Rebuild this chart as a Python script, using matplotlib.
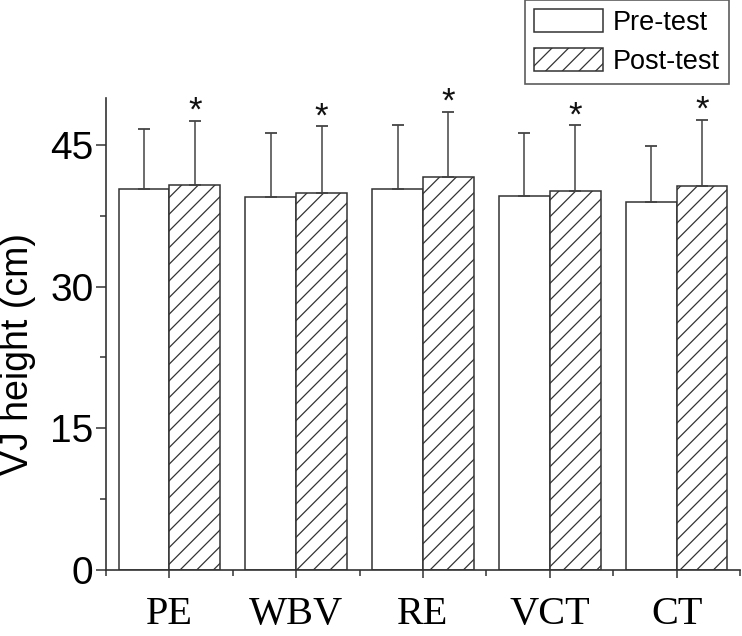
import matplotlib
matplotlib.use("Agg")
import matplotlib.pyplot as plt
import numpy as np

categories = ["PE", "WBV", "RE", "VCT", "CT"]
pre_mean = [40.3, 39.45, 40.3, 39.6, 38.95]
pre_sd = [6.4, 6.85, 6.8, 6.7, 5.95]
post_mean = [40.8, 39.95, 41.65, 40.15, 40.7]
post_sd = [6.8, 7.05, 6.85, 6.95, 7.0]
post_sig = ["*", "*", "*", "*", "*"]
yticks = [0, 15, 30, 45]

plt.rcParams['font.family'] = ['Liberation Sans', 'DejaVu Sans']
plt.rcParams['hatch.linewidth'] = 0.9
plt.rcParams['hatch.color'] = '#222222'

fig = plt.figure(figsize=(7.42, 6.36), dpi=100)
ax = fig.add_axes([106/742, 1-569.5/636, (740-106)/742, (569.5-98)/636])

x = np.arange(len(categories))
w = 0.4
edge = '#333333'
ax.bar(x - w/2, pre_mean, w, color='white', edgecolor=edge, linewidth=1.1,
       label='Pre-test', zorder=2)
ax.bar(x + w/2, post_mean, w, color='white', edgecolor=edge, linewidth=1.1,
       hatch='//', label='Post-test', zorder=2)
ax.errorbar(x - w/2, pre_mean, yerr=[np.zeros(len(pre_sd)), pre_sd], fmt='none',
            ecolor='#444444', elinewidth=1.1, capsize=4.5, capthick=1.3, zorder=3)
ax.errorbar(x + w/2, post_mean, yerr=[np.zeros(len(post_sd)), post_sd], fmt='none',
            ecolor='#444444', elinewidth=1.1, capsize=4.5, capthick=1.3, zorder=3)
for xi, m, s, sig in zip(x + w/2, post_mean, post_sd, post_sig):
    ax.annotate(sig, (xi, m + s), xytext=(0, -5), textcoords='offset points',
                ha='center', va='bottom', fontsize=25, color='#111111')

ax.set_xlim(-0.5, 4.5)
ax.set_ylim(0, 50)
ax.set_yticks(yticks)
ax.set_yticks(np.arange(7.5, 50, 15), minor=True)
ax.set_xticks(x)
ax.set_xticks(np.arange(-0.5, 4.6, 1.0), minor=True)
ax.set_xticklabels(categories, fontfamily='Liberation Serif', fontsize=29)
ax.tick_params(axis='y', labelsize=28, length=7, width=1.1, color='#333333',
               direction='out', pad=2)
ax.tick_params(axis='y', which='minor', length=4, width=1.1, color='#333333')
ax.tick_params(axis='x', length=6, width=1.1, color='#333333', direction='out', pad=13)
ax.tick_params(axis='x', which='minor', length=4, width=1.1, color='#333333')
ax.set_ylabel('VJ height (cm)', fontsize=27)
ax.yaxis.set_label_coords(-0.11, 0.458)

for sp in ['top', 'right']:
    ax.spines[sp].set_visible(False)
for sp in ['left', 'bottom']:
    ax.spines[sp].set_color('#333333')
    ax.spines[sp].set_linewidth(1.2)

leg = fig.legend(loc='upper right', bbox_to_anchor=(729/742, 1.0), fontsize=19.5,
                 frameon=True, fancybox=False, edgecolor='#333333',
                 handlelength=2.55, handleheight=0.9, handletextpad=0.35,
                 borderpad=0.35, labelspacing=0.45, borderaxespad=0.0)
leg.get_frame().set_linewidth(1.2)

fig.savefig('out.png', dpi=100)
